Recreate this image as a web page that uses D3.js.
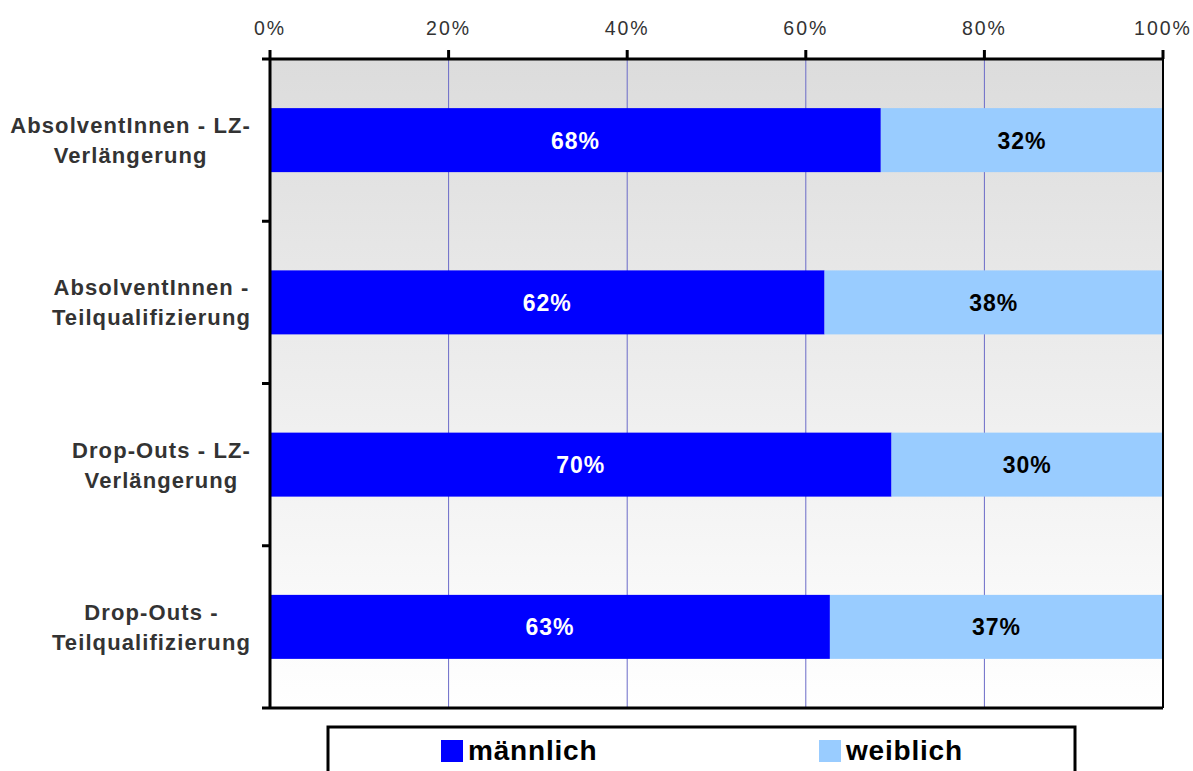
<!DOCTYPE html>
<html>
<head>
<meta charset="utf-8">
<script src="https://cdn.jsdelivr.net/npm/d3@7"></script>
<style>
  html, body { margin: 0; padding: 0; background: #fff; }
  svg { display: block; font-family: "Liberation Sans", Arial, sans-serif; }
</style>
</head>
<body>
<svg id="chart" width="1193" height="771"></svg>
<script>
// --- data ---
const categories = [
  ['AbsolventInnen - LZ-', 'Verlängerung'],
  ['AbsolventInnen -', 'Teilqualifizierung'],
  ['Drop-Outs - LZ-', 'Verlängerung'],
  ['Drop-Outs -', 'Teilqualifizierung']
];
const maleValues = [68.4, 62.1, 69.6, 62.7];
const femaleValues = [31.6, 37.9, 30.4, 37.3];
const seriesNames = ['männlich', 'weiblich'];
const seriesColours = ['#0000ff', '#99ccff'];
const tickValues = [0, 20, 40, 60, 80, 100];

const svg = d3.select('#chart');
const margin = { left: 270, right: 30, top: 59, bottom: 63 };
const W = 1193, H = 771;
const x0 = margin.left, x1 = W - margin.right, y0 = margin.top, y1 = H - margin.bottom;

const x = d3.scaleLinear().domain([0, 100]).range([x0, x1]);
const y = d3.scaleBand().domain(d3.range(categories.length)).range([y0, y1]).paddingInner(0).paddingOuter(0);
const barH = 64;

// background gradient
const defs = svg.append('defs');
const grad = defs.append('linearGradient').attr('id', 'bg').attr('x1', 0).attr('y1', 0).attr('x2', 0).attr('y2', 1);
grad.append('stop').attr('offset', '0%').attr('stop-color', '#dcdcdc');
grad.append('stop').attr('offset', '100%').attr('stop-color', '#ffffff');
svg.append('rect').attr('x', x0).attr('y', y0).attr('width', x1 - x0).attr('height', y1 - y0).attr('fill', 'url(#bg)');

// gridlines
svg.append('g').selectAll('line')
  .data(tickValues.slice(1, -1))
  .enter().append('line')
  .attr('x1', d => x(d)).attr('x2', d => x(d))
  .attr('y1', y0).attr('y2', y1)
  .attr('stroke', '#6b6bc8').attr('stroke-width', 1);

// stacked bars
const stack = categories.map((c, i) => [
  { s: 0, start: 0, end: maleValues[i], v: maleValues[i], i },
  { s: 1, start: maleValues[i], end: maleValues[i] + femaleValues[i], v: femaleValues[i], i }
]).flat();

const barG = svg.append('g');
barG.selectAll('rect').data(stack).enter().append('rect')
  .attr('x', d => x(d.start))
  .attr('width', d => x(d.end) - x(d.start))
  .attr('y', d => y(d.i) + y.bandwidth() / 2 - barH / 2)
  .attr('height', barH)
  .attr('fill', d => seriesColours[d.s]);

barG.selectAll('text').data(stack).enter().append('text')
  .attr('x', d => (x(d.start) + x(d.end)) / 2)
  .attr('y', d => y(d.i) + y.bandwidth() / 2 + 8.5)
  .attr('text-anchor', 'middle')
  .attr('font-size', '23px').attr('font-weight', 'bold').attr('letter-spacing', '1px')
  .attr('fill', d => d.s === 0 ? '#ffffff' : '#000000')
  .text(d => Math.round(d.v) + '%');

// top axis
const axTop = svg.append('g');
axTop.append('line').attr('x1', x0 - 8).attr('x2', x1).attr('y1', y0).attr('y2', y0)
  .attr('stroke', '#000').attr('stroke-width', 3);
axTop.selectAll('line.t').data(tickValues).enter().append('line').attr('class', 't')
  .attr('x1', d => x(d)).attr('x2', d => x(d)).attr('y1', y0 - 9).attr('y2', y0)
  .attr('stroke', '#000').attr('stroke-width', 3);
axTop.selectAll('text').data(tickValues).enter().append('text')
  .attr('x', d => x(d)).attr('y', 35)
  .attr('text-anchor', 'middle').attr('font-size', '19.5px').attr('letter-spacing', '2px').attr('fill', '#333')
  .text(d => d + '%');

// right border
svg.append('line').attr('x1', x1).attr('x2', x1).attr('y1', y0 - 9).attr('y2', y1)
  .attr('stroke', '#000').attr('stroke-width', 2);

// left axis + bottom line
svg.append('line').attr('x1', x0).attr('x2', x0).attr('y1', y0).attr('y2', y1 + 1)
  .attr('stroke', '#000').attr('stroke-width', 3);
svg.append('line').attr('x1', x0 - 8).attr('x2', x1).attr('y1', y1).attr('y2', y1)
  .attr('stroke', '#000').attr('stroke-width', 3);
svg.append('g').selectAll('line').data(d3.range(1, categories.length)).enter().append('line')
  .attr('x1', x0 - 8).attr('x2', x0).attr('y1', d => y(d)).attr('y2', d => y(d))
  .attr('stroke', '#000').attr('stroke-width', 3);

// category labels: centred lines, block right-aligned at 250
const labG = svg.append('g');
categories.forEach((lines, i) => {
  const cy = y(i) + y.bandwidth() / 2;
  const t = labG.append('text')
    .attr('font-size', '22px').attr('font-weight', 'bold').attr('letter-spacing', '1.1px').attr('fill', '#333')
    .attr('text-anchor', 'middle');
  lines.forEach((ln, k) => {
    t.append('tspan').attr('x', 0).attr('y', cy - 7 + k * 30).text(ln);
  });
  const bw = t.node().getBBox().width;
  t.selectAll('tspan').attr('x', 251 - bw / 2);
});

// legend
const leg = svg.append('g');
leg.append('rect').attr('x', 328).attr('y', 727).attr('width', 747).attr('height', 60)
  .attr('fill', '#fff').attr('stroke', '#000').attr('stroke-width', 3);
const legX = [441, 819];
seriesNames.forEach((n, i) => {
  leg.append('rect').attr('x', legX[i]).attr('y', 740).attr('width', 22).attr('height', 22).attr('fill', seriesColours[i]);
  leg.append('text').attr('x', legX[i] + 27).attr('y', 760)
    .attr('font-size', '28px').attr('font-weight', 'bold').attr('letter-spacing', '0.8px').attr('fill', '#000').text(n);
});
</script>
</body>
</html>
